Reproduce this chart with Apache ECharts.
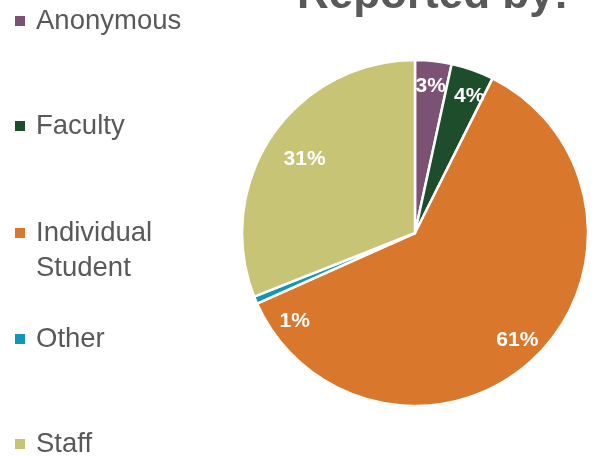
<!DOCTYPE html>
<html>
<head>
<meta charset="utf-8">
<script src="https://cdn.jsdelivr.net/npm/echarts@6/dist/echarts.min.js"></script>
<style>
html,body{margin:0;padding:0;background:#fff;}
#chart{width:595px;height:457px;}
</style>
</head>
<body>
<div id="chart"></div>
<script>
var categories = ['Anonymous', 'Faculty', 'Individual Student', 'Other', 'Staff'];
var legendLabels = ['Anonymous', 'Faculty', ' \nIndividual\nStudent', 'Other', 'Staff'];
var values = [3.4, 4.0, 60.9, 0.7, 31.0];
var colors = ['#7b5274', '#1e4d2b', '#d9772c', '#1495b8', '#c8c475'];
var titleText = 'Reported by:';

var FONT = '"Liberation Sans", Arial, sans-serif';
var chart = echarts.init(document.getElementById('chart'), null, {renderer: 'canvas'});

var pieData = categories.map(function (c, i) {
  return {name: c, value: values[i], itemStyle: {color: colors[i]}};
});

var legendTops = [3.5, 108.5, 180.5, 321.5, 426.5];
var legends = categories.map(function (c, i) {
  return {
    orient: 'vertical',
    left: 13,
    top: legendTops[i],
    padding: 0,
    icon: 'rect',
    itemWidth: 12,
    itemHeight: 12,
    selectedMode: false,
    data: [c],
    formatter: function () { return legendLabels[i]; },
    textStyle: {
      fontFamily: FONT,
      fontSize: 27.5,
      color: '#595959',
      lineHeight: 35,
      padding: [0, 0, 0, 5]
    }
  };
});

var labelNudges = [[0, 0], [5, 3], [0, 0], [16, 31], [12, 9]];

chart.setOption({
  animation: false,
  color: colors,
  title: {
    text: titleText,
    left: 297,
    top: -26,
    padding: 0,
    textStyle: {
      fontFamily: FONT,
      fontSize: 44,
      fontWeight: 'bold',
      color: '#595959',
      lineHeight: 44
    }
  },
  legend: legends,
  series: [
    {
      type: 'pie',
      center: [415, 233],
      radius: [0, 173],
      startAngle: 90,
      clockwise: true,
      silent: true,
      label: {show: false},
      labelLine: {show: false},
      itemStyle: {borderColor: '#ffffff', borderWidth: 2.5},
      data: pieData
    },
    {
      type: 'pie',
      center: [415, 233],
      radius: [0, 290],
      startAngle: 90,
      clockwise: true,
      silent: true,
      percentPrecision: 0,
      itemStyle: {color: 'rgba(0,0,0,0)', borderWidth: 0},
      labelLine: {show: false},
      label: {
        show: true,
        position: 'inside',
        formatter: '{d}%',
        fontFamily: FONT,
        fontSize: 21,
        fontWeight: 'bold',
        color: '#ffffff'
      },
      labelLayout: function (p) {
        var n = labelNudges[p.dataIndex];
        return {dx: n[0], dy: n[1]};
      },
      data: categories.map(function (c, i) { return {name: c, value: values[i]}; })
    }
  ]
});
</script>
</body>
</html>
